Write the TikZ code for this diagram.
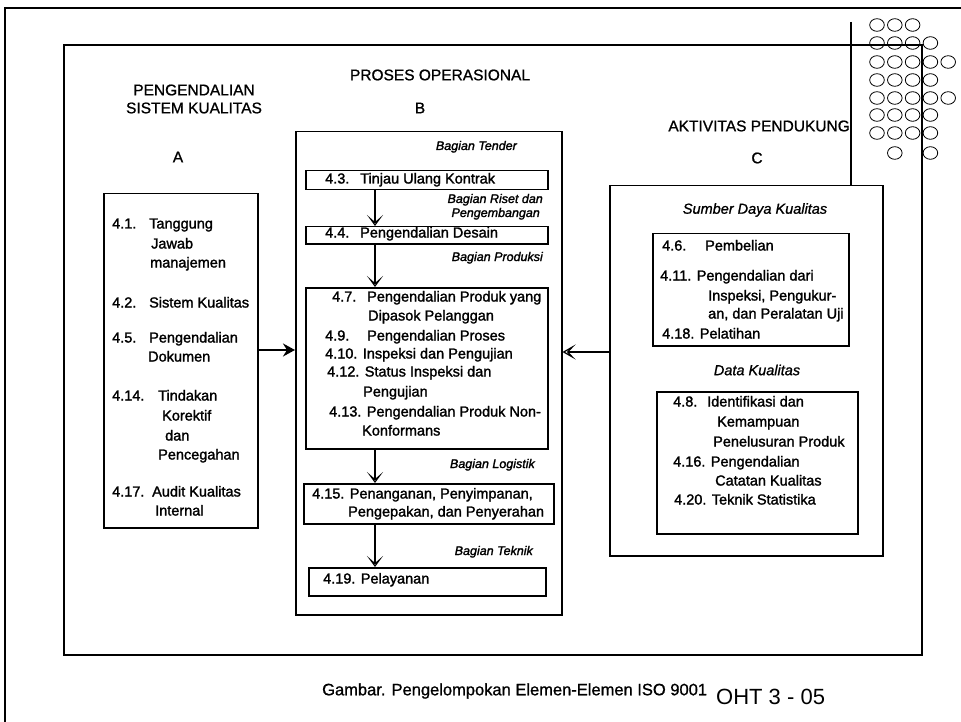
\documentclass[tikz,border=0pt]{standalone}
\usepackage{fontspec}
\setmainfont{Liberation Sans}
% same metrics as the regular face, only a heavier stroke
\newfontfamily\inkfont{Liberation Sans}[FakeBold=1.6]
\newfontfamily\lightink{Liberation Sans}[FakeBold=1.0]
\usetikzlibrary{arrows.meta}
\begin{document}
\begin{tikzpicture}[x=1pt,y=-1pt,
  frame/.style={line width=1.5pt},
  box/.style={draw,line width=1.5pt,fill=white,inner sep=0pt,anchor=north west},
  itm/.style={anchor=west,inner sep=0pt,text height=10pt,text depth=3pt,
              font=\inkfont\fontsize{14.5}{17}\selectfont},
  hdr/.style={inner sep=0pt,font=\lightink\fontsize{15.5}{18}\selectfont},
  sect/.style={anchor=east,inner sep=0pt,text height=9pt,text depth=3pt,
               font=\inkfont\fontsize{12.5}{15}\selectfont\itshape},
  sectc/.style={inner sep=0pt,font=\lightink\fontsize{14.5}{17}\selectfont\itshape},
  flow/.style={line width=2.6pt,
    -{Stealth[open,length=11pt,width=16pt,inset=7pt,line width=1.2pt]}},
  feed/.style={line width=2.4pt,-{Stealth[length=12pt,width=13pt,inset=4pt]}},
  feedopen/.style={line width=2.4pt,
    -{Stealth[open,length=13pt,width=15pt,inset=7pt,line width=1.2pt]}},
  dot/.style={line width=0.8pt}
]
\useasboundingbox (0,0) rectangle (961,722);

% outer sheet border (runs off the right and bottom)
\draw[frame] (5,722) -- (5,8) -- (961,8);
% inner frame
\draw[frame] (64,45) rectangle (922,655);

% ---------- group boxes ----------
\node[box,minimum width=154pt,minimum height=334pt] (boxA) at (103,193) {};
\node[box,minimum width=266pt,minimum height=483pt] (boxB) at (295,131) {};
\coordinate (ctop) at (851,22);
\node[box,minimum width=273pt,minimum height=370pt] (boxC) at (609,185) {};
\draw[frame] (ctop) -- (ctop |- boxC.north);

% ---------- headings ----------
\node[hdr] (hA1) at (194,90) {PENGENDALIAN};
\node[hdr] (hA2) at (194,108) {SISTEM KUALITAS};
\node[hdr] (hA3) at (178,157) {A};
\node[hdr] (hB1) at (440,75) {PROSES OPERASIONAL};
\node[hdr] (hB2) at (420,108) {B};
\node[hdr,anchor=east] (hC1) at (850,126) {AKTIVITAS PENDUKUNG};
\node[hdr] (hC2) at (757,158) {C};

% ---------- group A ----------
\node[itm] (a1n) at (112,225) {4.1.};
\node[itm] (a1a) at (149,225) {Tanggung};
\node[itm] (a1b) at (151,245) {Jawab};
\node[itm] (a1c) at (150,264) {manajemen};
\node[itm] (a2n) at (112,304) {4.2.};
\node[itm] (a2a) at (149,304) {Sistem Kualitas};
\node[itm] (a5n) at (112,339) {4.5.};
\node[itm] (a5a) at (149,339) {Pengendalian};
\node[itm] (a5b) at (148,358) {Dokumen};
\node[itm] (a14n) at (112,397) {4.14.};
\node[itm] (a14a) at (158,397) {Tindakan};
\node[itm] (a14b) at (162,417) {Korektif};
\node[itm] (a14c) at (165,437) {dan};
\node[itm] (a14d) at (158,456) {Pencegahan};
\node[itm] (a17n) at (112,493) {4.17.};
\node[itm] (a17a) at (152,493) {Audit Kualitas};
\node[itm] (a17b) at (155,512) {Internal};

% ---------- group B ----------
\node[sect] (sTender) at (517,147) {Bagian Tender};
\node[box,minimum width=242pt,minimum height=19pt] (k43) at (305,170) {};
\node[itm] (k43n) at (325,180) {4.3.};
\node[itm] (k43a) at (360,180) {Tinjau Ulang Kontrak};

\node[sect] (sRiset1) at (543,200) {Bagian Riset dan};
\node[sect] (sRiset2) at (540,214) {Pengembangan};
\node[box,minimum width=242pt,minimum height=17pt] (k44) at (305,226) {};
\node[itm] (k44n) at (325,234) {4.4.};
\node[itm] (k44a) at (360,234) {Pengendalian Desain};

\node[sect] (sProd) at (543,258) {Bagian Produksi};
\node[box,minimum width=242pt,minimum height=161pt] (kProd) at (305,287) {};
\node[itm] (p7n) at (332,298) {4.7.};
\node[itm] (p7a) at (367,298) {Pengendalian Produk yang};
\node[itm] (p7b) at (368,317) {Dipasok Pelanggan};
\node[itm] (p9n) at (325,337) {4.9.};
\node[itm] (p9a) at (367,337) {Pengendalian Proses};
\node[itm] (p10) at (325,355) {4.10. Inspeksi dan Pengujian};
\node[itm] (p12a) at (327,373) {4.12. Status Inspeksi dan};
\node[itm] (p12b) at (363,393) {Pengujian};
\node[itm] (p13a) at (329,413) {4.13. Pengendalian Produk Non-};
\node[itm] (p13b) at (362,432) {Konformans};

\node[sect] (sLog) at (535,465) {Bagian Logistik};
\node[box,minimum width=250pt,minimum height=40pt] (k415) at (303,483) {};
\node[itm] (l15a) at (312,495) {4.15. Penanganan, Penyimpanan,};
\node[itm] (l15b) at (348,513) {Pengepakan, dan Penyerahan};

\node[sect] (sTek) at (533,552) {Bagian Teknik};
\node[box,minimum width=237pt,minimum height=28pt] (k419) at (308,567) {};
\node[itm] (t19) at (323,580) {4.19. Pelayanan};

% flow down the operational chain
\coordinate (fx) at (375,0);
\draw[flow] (k43.south -| fx) -- (k44.north -| fx);
\draw[flow] (k44.south -| fx) -- (kProd.north -| fx);
\draw[flow] (kProd.south -| fx) -- (k415.north -| fx);
\draw[flow] (k415.south -| fx) -- (k419.north -| fx);

% ---------- group C ----------
\node[sectc] (sSumber) at (755,210) {Sumber Daya Kualitas};
\node[box,minimum width=196pt,minimum height=112pt] (kRes) at (652,233) {};
\node[itm] (c6n) at (662,247) {4.6.};
\node[itm] (c6a) at (705,247) {Pembelian};
\node[itm] (c11a) at (660,277) {4.11. Pengendalian dari};
\node[itm] (c11b) at (708,297) {Inspeksi, Pengukur-};
\node[itm] (c11c) at (708,315) {an, dan Peralatan Uji};
\node[itm] (c18) at (662,335) {4.18. Pelatihan};

\node[sectc] (sData) at (757,370) {Data Kualitas};
\node[box,minimum width=201pt,minimum height=142pt] (kData) at (656,391) {};
\node[itm] (d8n) at (673,403) {4.8.};
\node[itm] (d8a) at (707,403) {Identifikasi dan};
\node[itm] (d8b) at (717,423) {Kemampuan};
\node[itm] (d8c) at (713,443) {Penelusuran Produk};
\node[itm] (d16a) at (673,463) {4.16. Pengendalian};
\node[itm] (d16b) at (715,482) {Catatan Kualitas};
\node[itm] (d20) at (674,501) {4.20. Teknik Statistika};

% ---------- links between the groups ----------
\coordinate (ya) at (0,350);
\coordinate (yc) at (0,352);
\draw[feed] (boxA.east |- ya) -- (boxB.west |- ya);
\draw[feedopen] (boxC.west |- yc) -- (boxB.east |- yc);

% ---------- caption ----------
\node[anchor=west,inner sep=0pt,font=\lightink\fontsize{16.5}{19}\selectfont] (cap)
  at (322,691) {Gambar. Pengelompokan Elemen-Elemen ISO 9001};
\node[anchor=west,inner sep=0pt,font=\fontsize{22}{25}\selectfont] (oht)
  at (716,697) {OHT 3 - 05};

% ---------- dot ornament, top right ----------
\foreach \yy/\cs in {25/{1,2,3},43/{1,2,3,4},62/{1,2,3,4,5},80/{1,2,3,4},
                     98/{1,2,3,4,5},115/{1,2,3,4},133/{1,2,3,4},153/{2,4}}{
  \foreach \c in \cs {
    \draw[dot] ({877+(\c-1)*17.8},\yy) ellipse [x radius=7.3pt,y radius=6.3pt];
  }
}
\end{tikzpicture}
\end{document}
